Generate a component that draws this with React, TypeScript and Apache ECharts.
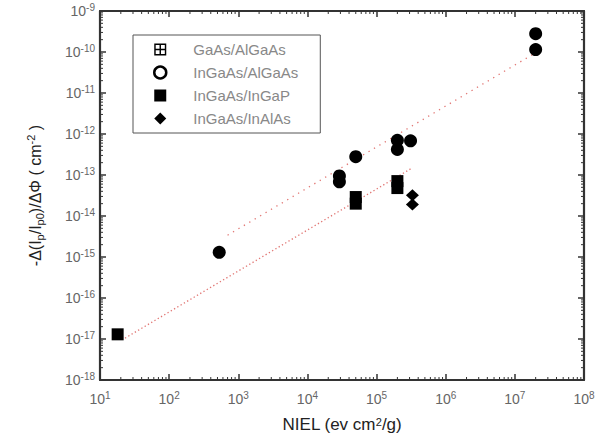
import React, { useEffect, useRef } from "react";
import * as echarts from "echarts";

// ---- data ----
const inGaAsAlGaAs: [number, number][] = [
  [530, 1.3e-15],
  [2.9e4, 9.5e-14],
  [2.9e4, 6.8e-14],
  [5e4, 2.8e-13],
  [2e5, 7e-13],
  [2e5, 4.2e-13],
  [3.1e5, 6.8e-13],
  [2e7, 2.8e-10],
  [2e7, 1.15e-10],
];
const inGaAsInGaP: [number, number][] = [
  [18, 1.3e-17],
  [5e4, 2.9e-14],
  [5e4, 2.0e-14],
  [2e5, 7.1e-14],
  [2e5, 4.8e-14],
];
const inGaAsInAlAs: [number, number][] = [
  [3.3e5, 3.2e-14],
  [3.3e5, 1.9e-14],
];
const gaAsAlGaAs: [number, number][] = [];
const upperFit: [number, number][] = [
  [700, 3.4e-15],
  [2e7, 9.6e-11],
];
const lowerFit: [number, number][] = [
  [23, 1.05e-17],
  [3.3e5, 1.5e-13],
];

const X_MIN = 1e1;
const X_MAX = 1e8;
const Y_MIN = 1e-18;
const Y_MAX = 1e-9;
const minorMultipliers = [2, 3, 4, 5, 6, 7, 8, 9];
const xDecadeExps = [1, 2, 3, 4, 5, 6, 7];
const yDecadeExps = [-18, -17, -16, -15, -14, -13, -12, -11, -10];

const seriesNames = ["GaAs/AlGaAs", "InGaAs/AlGaAs", "InGaAs/InGaP", "InGaAs/InAlAs"];

const AXIS = "#333";
const LABEL = "#666";
const FONT = "Liberation Sans, Arial, sans-serif";

const gridIcon =
  "path://M0,0h10v10h-10z M1.2,1.2v3.2h3.2v-3.2z M5.6,1.2v3.2h3.2v-3.2z M1.2,5.6v3.2h3.2v-3.2z M5.6,5.6v3.2h3.2v-3.2z";

export default function App() {
  const ref = useRef<HTMLDivElement>(null);

  useEffect(() => {
    if (!ref.current) return;
    const chart = echarts.init(ref.current, undefined, { renderer: "svg" });

    const minorTickData: number[][] = [];
    xDecadeExps.forEach((e) =>
      minorMultipliers.forEach((m) => minorTickData.push([m * Math.pow(10, e), Y_MIN, 0]))
    );
    yDecadeExps.forEach((e) =>
      minorMultipliers.forEach((m) => minorTickData.push([X_MIN, m * Math.pow(10, e), 1]))
    );

    const expLabel = (v: number) => {
      const e = Math.round(Math.log10(v));
      return `{b|10}{s|${e}}`;
    };
    const labelRich = {
      b: { fontSize: 14, color: LABEL, fontFamily: FONT, lineHeight: 18, verticalAlign: "middle" },
      s: { fontSize: 10, color: LABEL, fontFamily: FONT, lineHeight: 6, verticalAlign: "top" },
    };

    const baseX = {
      type: "log",
      logBase: 10,
      min: X_MIN,
      max: X_MAX,
      interval: 1,
      splitLine: { show: false },
      axisLine: { show: true, onZero: false, lineStyle: { color: AXIS, width: 2.2 } },
      axisTick: { show: true, inside: true, length: 6, lineStyle: { color: AXIS, width: 1.5 } },
    };
    const baseY = {
      type: "log",
      logBase: 10,
      min: Y_MIN,
      max: Y_MAX,
      interval: 1,
      splitLine: { show: false },
      axisLine: { show: true, onZero: false, lineStyle: { color: AXIS, width: 2.2 } },
      axisTick: { show: true, inside: true, length: 6, lineStyle: { color: AXIS, width: 1.5 } },
    };

    chart.setOption({
      animation: false,
      backgroundColor: "#fff",
      grid: { left: 100, right: 24, top: 11, bottom: 66, containLabel: false },
      xAxis: [
        {
          ...baseX,
          position: "bottom",
          name: "NIEL (ev cm{sup|2}/g)",
          nameLocation: "middle",
          nameGap: 36,
          nameTextStyle: {
            fontSize: 17,
            color: "#222",
            fontFamily: FONT,
            rich: {
              sup: { fontSize: 11, color: "#222", fontFamily: FONT, lineHeight: 8, verticalAlign: "top" },
            },
          },
          axisLabel: { show: true, margin: 10, formatter: expLabel, rich: labelRich },
        },
        { ...baseX, position: "top", axisLabel: { show: false } },
      ],
      yAxis: [
        {
          ...baseY,
          position: "left",
          name:
            "{t|-Δ(I}{sub|p}{t|/I}{sub|p0}{t|)/ΔΦ ( cm}{sup|-2}{t| )}",
          nameLocation: "middle",
          nameRotate: 90,
          nameGap: 55,
          nameTextStyle: {
            color: "#222",
            fontFamily: FONT,
            rich: {
              t: { fontSize: 16, color: "#222", fontFamily: FONT, lineHeight: 20, verticalAlign: "middle" },
              sub: { fontSize: 11, color: "#222", fontFamily: FONT, lineHeight: 8, verticalAlign: "bottom" },
              sup: { fontSize: 11, color: "#222", fontFamily: FONT, lineHeight: 8, verticalAlign: "top" },
            },
          },
          axisLabel: { show: true, margin: 5, formatter: expLabel, rich: labelRich },
        },
        { ...baseY, position: "right", axisLabel: { show: false } },
      ],
      legend: {
        show: true,
        orient: "vertical",
        left: 133,
        top: 35,
        data: [
          { name: seriesNames[0], icon: gridIcon },
          {
            name: seriesNames[1],
            icon: "circle",
            itemStyle: { color: "#fff", borderColor: "#000", borderWidth: 2.5, opacity: 1 },
          },
          { name: seriesNames[2], icon: "rect" },
          { name: seriesNames[3], icon: "diamond" },
        ],
        itemWidth: 12,
        itemHeight: 12,
        itemGap: 8,
        padding: [7, 22, 7, 20],
        borderColor: "#555",
        borderWidth: 1,
        backgroundColor: "#fff",
        selectedMode: false,
        textStyle: {
          color: "#888",
          fontSize: 15,
          fontFamily: FONT,
          lineHeight: 12,
          padding: [0, 0, 0, 22],
        },
      },
      series: [
        {
          name: seriesNames[0],
          type: "scatter",
          data: gaAsAlGaAs,
          symbol: gridIcon,
          symbolSize: 12,
          itemStyle: { color: "#000", opacity: 1 },
        },
        {
          name: seriesNames[1],
          type: "scatter",
          data: inGaAsAlGaAs,
          symbol: "circle",
          symbolSize: 13,
          itemStyle: { color: "#000", opacity: 1 },
          z: 5,
        },
        {
          name: seriesNames[2],
          type: "scatter",
          data: inGaAsInGaP,
          symbol: "rect",
          symbolSize: 12,
          itemStyle: { color: "#000", opacity: 1 },
          z: 5,
        },
        {
          name: seriesNames[3],
          type: "scatter",
          data: inGaAsInAlAs,
          symbol: "diamond",
          symbolSize: [13, 12],
          itemStyle: { color: "#000", opacity: 1 },
          z: 5,
        },
        {
          name: "upperFit",
          type: "line",
          data: upperFit,
          showSymbol: false,
          symbol: "none",
          silent: true,
          lineStyle: { color: "#d9534f", width: 1.3, type: [1.3, 5], opacity: 0.8 },
          z: 3,
        },
        {
          name: "lowerFit",
          type: "line",
          data: lowerFit,
          showSymbol: false,
          symbol: "none",
          silent: true,
          lineStyle: { color: "#d9534f", width: 1.3, type: [1.3, 2.5], opacity: 0.8 },
          z: 3,
        },
        {
          name: "minorTicks",
          type: "custom",
          silent: true,
          data: minorTickData,
          renderItem: (_params: any, api: any) => {
            const v = api.value(0);
            const w = api.value(1);
            const kind = api.value(2);
            const L = 3;
            const style = { stroke: AXIS, lineWidth: 1 };
            if (kind === 0) {
              const b = api.coord([v, Y_MIN]);
              const t = api.coord([v, Y_MAX]);
              return {
                type: "group",
                children: [
                  { type: "line", shape: { x1: b[0], y1: b[1], x2: b[0], y2: b[1] - L }, style },
                  { type: "line", shape: { x1: t[0], y1: t[1], x2: t[0], y2: t[1] + L }, style },
                ],
              };
            }
            const l = api.coord([X_MIN, w]);
            const r = api.coord([X_MAX, w]);
            return {
              type: "group",
              children: [
                { type: "line", shape: { x1: l[0], y1: l[1], x2: l[0] + L, y2: l[1] }, style },
                { type: "line", shape: { x1: r[0], y1: r[1], x2: r[0] - L, y2: r[1] }, style },
              ],
            };
          },
        },
      ],
    });

    return () => chart.dispose();
  }, []);

  return (
    <div
      ref={ref}
      style={{ position: "fixed", left: 0, top: 0, width: 608, height: 446, background: "#fff" }}
    />
  );
}
